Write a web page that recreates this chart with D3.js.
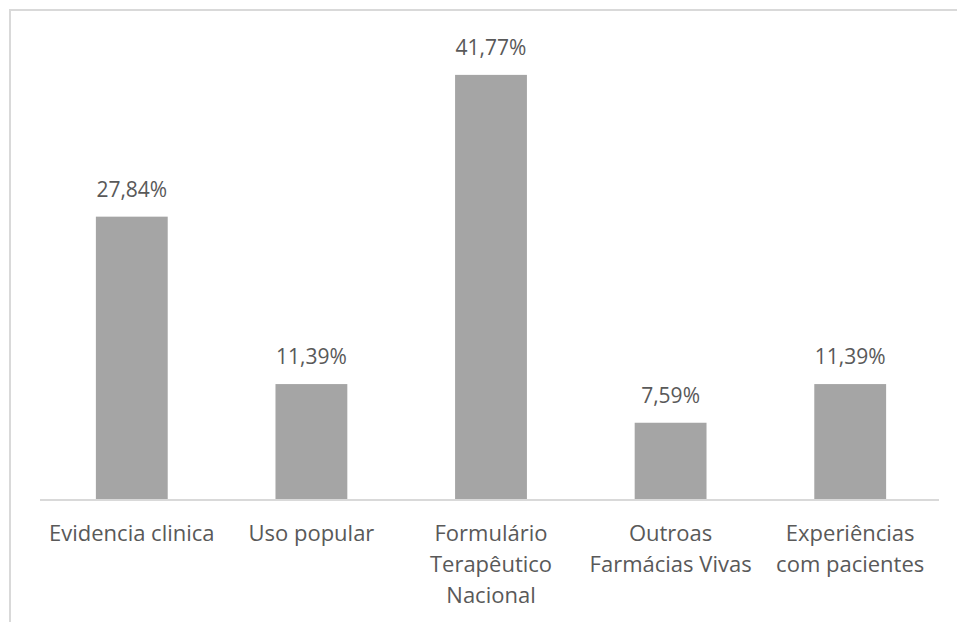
<!DOCTYPE html>
<html>
<head>
<meta charset="utf-8">
<script src="https://cdn.jsdelivr.net/npm/d3@7"></script>
<style>
  html, body { margin: 0; padding: 0; background: #ffffff; }
  svg { display: block; }
</style>
</head>
<body>
<svg id="chart" width="957" height="622"></svg>
<script>
// Categories (each entry is the list of wrapped label lines)
const categories = [
  ["Evidencia clinica"],
  ["Uso popular"],
  ["Formulário", "Terapêutico", "Nacional"],
  ["Outroas", "Farmácias Vivas"],
  ["Experiências", "com pacientes"]
];
// Share of responses, in percent
const values = [27.84, 11.39, 41.77, 7.59, 11.39];
// Value labels as printed above the bars
const valueLabels = ["27,84%", "11,39%", "41,77%", "7,59%", "11,39%"];

const width = 957, height = 622;
const margin = { left: 42, right: 17, top: 42, bottom: 122 };
const fontFamily = "'Open Sans', Lato, sans-serif";
const textColor = "#595959";

const svg = d3.select("#chart");

// chart frame
svg.append("rect")
  .attr("x", 10).attr("y", 10)
  .attr("width", 980).attr("height", 660)
  .attr("fill", "#ffffff")
  .attr("stroke", "#d9d9d9")
  .attr("stroke-width", 2);

const keys = categories.map((c, i) => i);

const x = d3.scaleBand()
  .domain(keys)
  .range([margin.left, width - margin.right])
  .paddingInner(0.6)
  .paddingOuter(0.3);

const y = d3.scaleLinear()
  .domain([0, 45])
  .range([height - margin.bottom, margin.top]);

// bars
svg.append("g")
  .selectAll("rect")
  .data(values)
  .join("rect")
  .attr("x", (d, i) => x(i))
  .attr("y", d => y(d))
  .attr("width", x.bandwidth())
  .attr("height", d => y(0) - y(d))
  .attr("fill", "#a5a5a5");

// value labels
svg.append("g")
  .selectAll("text")
  .data(values)
  .join("text")
  .attr("x", (d, i) => x(i) + x.bandwidth() / 2)
  .attr("y", d => y(d) - 20)
  .attr("text-anchor", "middle")
  .attr("font-family", fontFamily)
  .attr("font-size", 21)
  .attr("fill", textColor)
  .text((d, i) => valueLabels[i]);

// category axis
const xAxis = svg.append("g")
  .attr("transform", `translate(0,${y(0)})`)
  .call(d3.axisBottom(x).tickSize(0).tickFormat(""));
xAxis.select(".domain")
  .attr("stroke", "#d9d9d9")
  .attr("stroke-width", 2)
  .attr("d", `M40,0H939`);

xAxis.selectAll(".tick")
  .append("text")
  .attr("text-anchor", "middle")
  .attr("font-family", fontFamily)
  .attr("font-size", 22)
  .attr("fill", textColor)
  .each(function(i) {
    const t = d3.select(this);
    categories[i].forEach((line, k) => {
      t.append("tspan")
        .attr("x", 0)
        .attr("y", 41 + k * 31)
        .text(line);
    });
  });
</script>
</body>
</html>
